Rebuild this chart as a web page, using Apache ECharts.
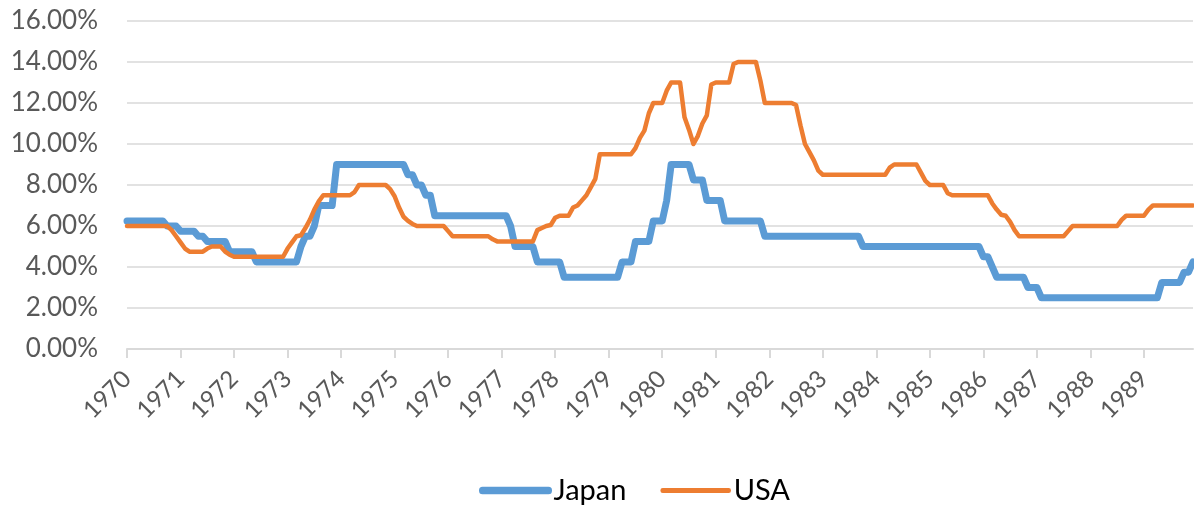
<!DOCTYPE html>
<html>
<head>
<meta charset="utf-8">
<script src="https://cdn.jsdelivr.net/npm/echarts@6/dist/echarts.min.js"></script>
<style>
  html, body { margin: 0; padding: 0; background: #fff; }
  #chart { width: 1194px; height: 507px; }
</style>
</head>
<body>
<div id="chart"></div>
<script>
// Year labels on the category axis (one category per month)
const years = ['1970','1971','1972','1973','1974','1975','1976','1977','1978','1979',
               '1980','1981','1982','1983','1984','1985','1986','1987','1988','1989'];
const months = ['01','02','03','04','05','06','07','08','09','10','11','12'];

// Monthly policy rate, Japan (%), one row per year
const japan = [
  6.25,6.25,6.25,6.25,6.25,6.25,6.25,6.25,6.25,6.0,6.0,6.0,          // 1970
  5.75,5.75,5.75,5.75,5.5,5.5,5.25,5.25,5.25,5.25,5.25,4.75,         // 1971
  4.75,4.75,4.75,4.75,4.75,4.25,4.25,4.25,4.25,4.25,4.25,4.25,       // 1972
  4.25,4.25,4.25,5.0,5.5,5.5,6.0,7.0,7.0,7.0,7.0,9.0,                // 1973
  9.0,9.0,9.0,9.0,9.0,9.0,9.0,9.0,9.0,9.0,9.0,9.0,                   // 1974
  9.0,9.0,9.0,8.5,8.5,8.0,8.0,7.5,7.5,6.5,6.5,6.5,                   // 1975
  6.5,6.5,6.5,6.5,6.5,6.5,6.5,6.5,6.5,6.5,6.5,6.5,                   // 1976
  6.5,6.5,6.0,5.0,5.0,5.0,5.0,5.0,4.25,4.25,4.25,4.25,               // 1977
  4.25,4.25,3.5,3.5,3.5,3.5,3.5,3.5,3.5,3.5,3.5,3.5,                 // 1978
  3.5,3.5,3.5,4.25,4.25,4.25,5.25,5.25,5.25,5.25,6.25,6.25,          // 1979
  6.25,7.25,9.0,9.0,9.0,9.0,9.0,8.25,8.25,8.25,7.25,7.25,            // 1980
  7.25,7.25,6.25,6.25,6.25,6.25,6.25,6.25,6.25,6.25,6.25,5.5,        // 1981
  5.5,5.5,5.5,5.5,5.5,5.5,5.5,5.5,5.5,5.5,5.5,5.5,                   // 1982
  5.5,5.5,5.5,5.5,5.5,5.5,5.5,5.5,5.5,5.0,5.0,5.0,                   // 1983
  5.0,5.0,5.0,5.0,5.0,5.0,5.0,5.0,5.0,5.0,5.0,5.0,                   // 1984
  5.0,5.0,5.0,5.0,5.0,5.0,5.0,5.0,5.0,5.0,5.0,5.0,                   // 1985
  4.5,4.5,4.0,3.5,3.5,3.5,3.5,3.5,3.5,3.5,3.0,3.0,                   // 1986
  3.0,2.5,2.5,2.5,2.5,2.5,2.5,2.5,2.5,2.5,2.5,2.5,                   // 1987
  2.5,2.5,2.5,2.5,2.5,2.5,2.5,2.5,2.5,2.5,2.5,2.5,                   // 1988
  2.5,2.5,2.5,2.5,3.25,3.25,3.25,3.25,3.25,3.75,3.75,4.25            // 1989
];

// Monthly policy rate, USA (%), one row per year
const usa = [
  6.0,6.0,6.0,6.0,6.0,6.0,6.0,6.0,6.0,6.0,5.8,5.5,                   // 1970
  5.2,4.9,4.75,4.75,4.75,4.75,4.9,5.0,5.0,5.0,4.75,4.6,              // 1971
  4.5,4.5,4.5,4.5,4.5,4.5,4.5,4.5,4.5,4.5,4.5,4.5,                   // 1972
  4.9,5.2,5.5,5.55,5.9,6.3,6.8,7.2,7.5,7.5,7.5,7.5,                  // 1973
  7.5,7.5,7.5,7.65,8.0,8.0,8.0,8.0,8.0,8.0,8.0,7.8,                  // 1974
  7.45,6.9,6.45,6.25,6.1,6.0,6.0,6.0,6.0,6.0,6.0,6.0,                // 1975
  5.75,5.5,5.5,5.5,5.5,5.5,5.5,5.5,5.5,5.5,5.35,5.25,                // 1976
  5.25,5.25,5.25,5.25,5.25,5.25,5.25,5.25,5.8,5.9,6.0,6.05,          // 1977
  6.4,6.5,6.5,6.5,6.9,7.0,7.25,7.5,7.9,8.3,9.5,9.5,                  // 1978
  9.5,9.5,9.5,9.5,9.5,9.5,9.8,10.3,10.65,11.5,12.0,12.0,             // 1979
  12.0,12.6,13.0,13.0,13.0,11.3,10.7,10.0,10.4,11.0,11.4,12.9,       // 1980
  13.0,13.0,13.0,13.0,13.9,14.0,14.0,14.0,14.0,14.0,13.1,12.0,       // 1981
  12.0,12.0,12.0,12.0,12.0,12.0,11.9,10.9,10.0,9.6,9.2,8.7,          // 1982
  8.5,8.5,8.5,8.5,8.5,8.5,8.5,8.5,8.5,8.5,8.5,8.5,                   // 1983
  8.5,8.5,8.5,8.85,9.0,9.0,9.0,9.0,9.0,9.0,8.6,8.2,                  // 1984
  8.0,8.0,8.0,8.0,7.6,7.5,7.5,7.5,7.5,7.5,7.5,7.5,                   // 1985
  7.5,7.5,7.1,6.8,6.55,6.5,6.2,5.8,5.5,5.5,5.5,5.5,                  // 1986
  5.5,5.5,5.5,5.5,5.5,5.5,5.5,5.75,6.0,6.0,6.0,6.0,                  // 1987
  6.0,6.0,6.0,6.0,6.0,6.0,6.0,6.3,6.5,6.5,6.5,6.5,                   // 1988
  6.5,6.8,7.0,7.0,7.0,7.0,7.0,7.0,7.0,7.0,7.0,7.0                    // 1989
];

// Y axis ticks: 0.00% .. 16.00% in steps of 2
const yMin = 0, yMax = 16, yStep = 2;

const categories = [];
years.forEach(y => months.forEach(m => categories.push(y + '-' + m)));

const BLUE = '#5b9bd5', ORANGE = '#ed7d31';
const font = 'Lato, "Open Sans", sans-serif';
const chart = echarts.init(document.getElementById('chart'), null, { renderer: 'canvas' });

chart.setOption({
  animation: false,
  backgroundColor: '#ffffff',
  grid: { left: 127, right: 1, top: 21, bottom: 158, containLabel: false },
  legend: {
    left: 474,
    top: 471,
    icon: 'rect',
    itemWidth: 66,
    itemHeight: 0.5,
    itemGap: 34,
    textStyle: { fontFamily: font, fontSize: 29, color: '#000000', padding: [0, 0, 0, 0] },
    data: [
      { name: 'Japan', itemStyle: { color: BLUE, borderColor: BLUE, borderWidth: 7, borderJoin: 'round' } },
      { name: 'USA', itemStyle: { color: ORANGE, borderColor: ORANGE, borderWidth: 4.5, borderJoin: 'round' } }
    ]
  },
  xAxis: {
    type: 'category',
    boundaryGap: false,
    data: categories,
    axisLine: { lineStyle: { color: '#d9d9d9', width: 2 } },
    axisTick: { show: true, interval: 11, length: 9, lineStyle: { color: '#d9d9d9', width: 2 } },
    axisLabel: {
      interval: 11,
      rotate: 45,
      margin: 26,
      color: '#595959',
      fontFamily: font,
      fontSize: 24,
      formatter: v => v.slice(0, 4)
    },
    splitLine: { show: false }
  },
  yAxis: {
    type: 'value',
    min: yMin,
    max: yMax,
    interval: yStep,
    axisLine: { show: false },
    axisTick: { show: false },
    axisLabel: {
      margin: 29,
      color: '#595959',
      fontFamily: font,
      fontSize: 26,
      formatter: v => v.toFixed(2) + '%'
    },
    splitLine: { lineStyle: { color: '#d9d9d9', width: 1.5 } }
  },
  series: [
    {
      name: 'Japan',
      type: 'line',
      data: japan,
      showSymbol: false,
      symbol: 'none',
      color: BLUE,
      lineStyle: { color: BLUE, width: 7, join: 'round', cap: 'round' },
      z: 2
    },
    {
      name: 'USA',
      type: 'line',
      data: usa,
      showSymbol: false,
      symbol: 'none',
      color: ORANGE,
      lineStyle: { color: ORANGE, width: 4.5, join: 'round', cap: 'round' },
      z: 3
    }
  ]
});
</script>
</body>
</html>
